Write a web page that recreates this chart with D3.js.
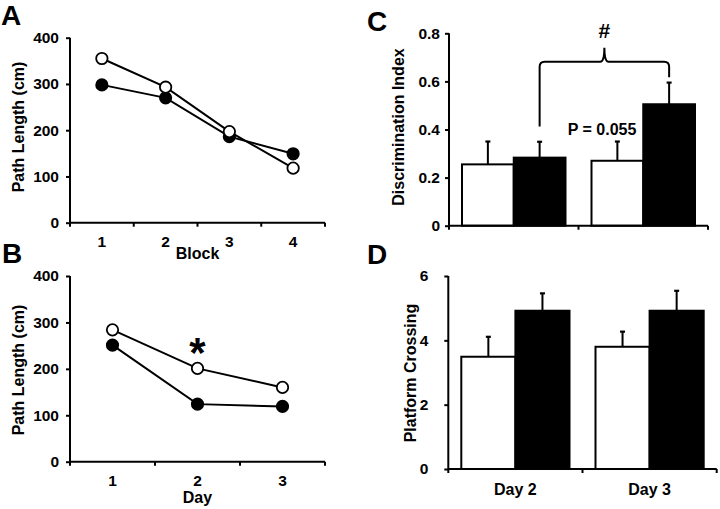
<!DOCTYPE html>
<html><head><meta charset="utf-8">
<script src="https://cdn.jsdelivr.net/npm/d3@7"></script>
<style>
body{margin:0;background:#fff;}
svg text{font-family:"Liberation Sans",Arial,sans-serif;font-weight:bold;fill:#000;}
</style></head>
<body>
<svg id="c" width="720" height="509"></svg>
<script>
// ---- data ----
const blockCats = ["1","2","3","4"];
const blockOpen = [355, 293, 197, 118];
const blockFilled = [298, 270, 186, 149];
const dayCats = ["1","2","3"];
const dayOpen = [284, 201, 160];
const dayFilled = [251, 124, 119];
const pathTicks = [0, 100, 200, 300, 400];
const groupCats = ["Day 2", "Day 3"];
const discWhite = [0.255, 0.270];
const discWhiteErr = [0.095, 0.080];
const discBlack = [0.283, 0.505];
const discBlackErr = [0.066, 0.090];
const discTicks = [0, 0.2, 0.4, 0.6, 0.8];
const discTickLabels = ["0", "0.2", "0.4", "0.6", "0.8"];
const crossWhite = [3.49, 3.80];
const crossWhiteErr = [0.62, 0.47];
const crossBlack = [4.92, 4.92];
const crossBlackErr = [0.54, 0.62];
const crossTicks = [0, 2, 4, 6];

const svg = d3.select("#c");
const TICK_FS = "15.5px", LAB_FS = "16px";

function yAxis(g, y, ticks, labels, x0, pad) {
  const ax = d3.axisLeft(y).tickValues(ticks).tickSize(4).tickPadding(pad)
    .tickFormat((d,i) => labels ? labels[i] : d);
  const a = g.append("g").attr("transform", `translate(${x0},0)`).call(ax);
  a.select(".domain").attr("stroke", "#000").attr("stroke-width", 2)
    .attr("d", `M0,${y.range()[0]}V${y.range()[1]}`);
  a.selectAll(".tick line").attr("stroke", "#000").attr("stroke-width", 2);
  a.selectAll("text").style("font-size", TICK_FS);
}

function xAxisBand(g, x, yPos, showLabels, off, fs) {
  const dom = x.domain();
  const bounds = [x.range()[0]].concat(dom.map(d => x(d) + x.bandwidth()));
  g.append("line").attr("x1", x.range()[0]).attr("x2", x.range()[1])
    .attr("y1", yPos).attr("y2", yPos).attr("stroke", "#000").attr("stroke-width", 2);
  g.selectAll(null).data(bounds).enter().append("line")
    .attr("x1", d => d).attr("x2", d => d).attr("y1", yPos).attr("y2", yPos + 4)
    .attr("stroke", "#000").attr("stroke-width", 2);
  if (showLabels) {
    const ax = d3.axisBottom(x).tickSize(0).tickPadding(0);
    const a = g.append("g").attr("transform", `translate(0,${yPos + off})`).call(ax);
    a.select(".domain").remove();
    a.selectAll("text").style("font-size", fs);
  }
}

function linePanel(cfg) {
  const g = svg.append("g");
  const x = d3.scaleBand().domain(cfg.cats).range([cfg.x0, cfg.x1]);
  const y = d3.scaleLinear().domain([0, 400]).range([cfg.yb, cfg.yt]);
  yAxis(g, y, pathTicks, null, cfg.x0, 7);
  xAxisBand(g, x, cfg.yb, true, 13, TICK_FS);
  const cx = d => x(d) + x.bandwidth() / 2;
  const line = d3.line().x((d, i) => cx(cfg.cats[i])).y(d => y(d));
  [cfg.filled, cfg.open].forEach(vals => {
    g.append("path").attr("d", line(vals)).attr("fill", "none")
      .attr("stroke", "#000").attr("stroke-width", 2);
  });
  [[cfg.filled, "#000"], [cfg.open, "#fff"]].forEach(([vals, fill]) => {
    g.selectAll(null).data(vals).enter().append("circle")
      .attr("cx", (d, i) => cx(cfg.cats[i])).attr("cy", d => y(d)).attr("r", 5.7)
      .attr("fill", fill).attr("stroke", "#000").attr("stroke-width", 1.8);
  });
  g.append("text").attr("transform", `translate(${cfg.ylx},${cfg.ylc}) rotate(-90)`)
    .attr("text-anchor", "middle").attr("dominant-baseline", "central")
    .style("font-size", LAB_FS).text("Path Length (cm)");
  g.append("text").attr("x", (cfg.x0 + cfg.x1) / 2).attr("y", cfg.xly)
    .attr("text-anchor", "middle").style("font-size", LAB_FS).text(cfg.xlabel);
  return {g, x, y, cx};
}

function barPanel(cfg) {
  const g = svg.append("g");
  const x = d3.scaleBand().domain(groupCats).range([cfg.x0, cfg.x1]);
  const sub = d3.scaleBand().domain(["w", "b"]).range([cfg.pad, x.bandwidth() - cfg.pad]);
  const y = d3.scaleLinear().domain([0, cfg.max]).range([cfg.yb, cfg.yt]);
  yAxis(g, y, cfg.ticks, cfg.tickLabels, cfg.x0, cfg.tickPad);
  const series = [["w", cfg.white, cfg.whiteErr, "#fff"], ["b", cfg.black, cfg.blackErr, "#000"]];
  series.forEach(([k, vals, errs, fill]) => {
    groupCats.forEach((c, i) => {
      const bx = x(c) + sub(k), bw = sub.bandwidth(), mx = bx + bw / 2;
      g.append("line").attr("x1", mx).attr("x2", mx).attr("y1", y(vals[i]))
        .attr("y2", y(vals[i] + errs[i])).attr("stroke", "#000").attr("stroke-width", 2);
      g.append("line").attr("x1", mx - 2.5).attr("x2", mx + 2.5).attr("y1", y(vals[i] + errs[i]))
        .attr("y2", y(vals[i] + errs[i])).attr("stroke", "#000").attr("stroke-width", 2.2);
      g.append("rect").attr("x", bx).attr("y", y(vals[i])).attr("width", bw)
        .attr("height", y(0) - y(vals[i])).attr("fill", fill)
        .attr("stroke", "#000").attr("stroke-width", 2);
    });
  });
  xAxisBand(g, x, cfg.yb, cfg.showLabels, 15, LAB_FS);
  g.append("text").attr("transform", `translate(${cfg.ylx},${cfg.ylc}) rotate(-90)`)
    .attr("text-anchor", "middle").attr("dominant-baseline", "central")
    .style("font-size", LAB_FS).text(cfg.ylabel);
  return {g, x, sub, y};
}

// Panel A
linePanel({cats: blockCats, open: blockOpen, filled: blockFilled,
  x0: 70, x1: 325, yb: 222.7, yt: 37.7, ylx: 18, ylc: 127, xly: 259, xlabel: "Block"});
// Panel B
const pB = linePanel({cats: dayCats, open: dayOpen, filled: dayFilled,
  x0: 70, x1: 325, yb: 461.7, yt: 276, ylx: 18, ylc: 370, xly: 503, xlabel: "Day"});
pB.g.append("text").attr("x", pB.cx("2")).attr("y", 367).attr("text-anchor", "middle")
  .style("font-size", "42px").text("*");

// Panel C
const pC = barPanel({x0: 449, x1: 708, yb: 225.7, yt: 33.3, pad: 13, max: 0.8, tickPad: 5,
  ticks: discTicks, tickLabels: discTickLabels, white: discWhite, whiteErr: discWhiteErr,
  black: discBlack, blackErr: discBlackErr, ylx: 398, ylc: 127, ylabel: "Discrimination Index", showLabels: false});
{
  const bxL = pC.x("Day 2") + pC.sub("b") + pC.sub.bandwidth() / 2;
  const bxR = pC.x("Day 3") + pC.sub("b") + pC.sub.bandwidth() / 2;
  const yL = pC.y(0.412), yTop = pC.y(0.682), yR = pC.y(0.617), yPk = pC.y(0.74);
  const mid = (bxL + bxR) / 2, r = 5;
  const p = `M${bxL},${yL}V${yTop + r}Q${bxL},${yTop} ${bxL + r},${yTop}H${mid - 4}` +
    `Q${mid},${yTop} ${mid},${yPk}Q${mid},${yTop} ${mid + 4},${yTop}H${bxR - r}` +
    `Q${bxR},${yTop} ${bxR},${yTop + r}V${yR}`;
  pC.g.append("path").attr("d", p).attr("fill", "none").attr("stroke", "#000").attr("stroke-width", 2);
  pC.g.append("text").attr("x", mid).attr("y", 37.5).attr("text-anchor", "middle")
    .style("font-size", "21px").text("#");
  pC.g.append("text").attr("x", 602).attr("y", 135).attr("text-anchor", "middle")
    .style("font-size", LAB_FS).text("P = 0.055");
}

// Panel D
barPanel({x0: 448.3, x1: 716.7, yb: 469, yt: 276, pad: 13, max: 6, tickPad: 16,
  ticks: crossTicks, tickLabels: null, white: crossWhite, whiteErr: crossWhiteErr,
  black: crossBlack, blackErr: crossBlackErr, ylx: 410, ylc: 373, ylabel: "Platform Crossing", showLabels: true});

// panel letters
[["A", 1, 25], ["B", 2, 263], ["C", 367, 31], ["D", 367, 264]].forEach(([t, x, y]) => {
  svg.append("text").attr("x", x).attr("y", y).style("font-size", "28px").text(t);
});
</script>
</body></html>
